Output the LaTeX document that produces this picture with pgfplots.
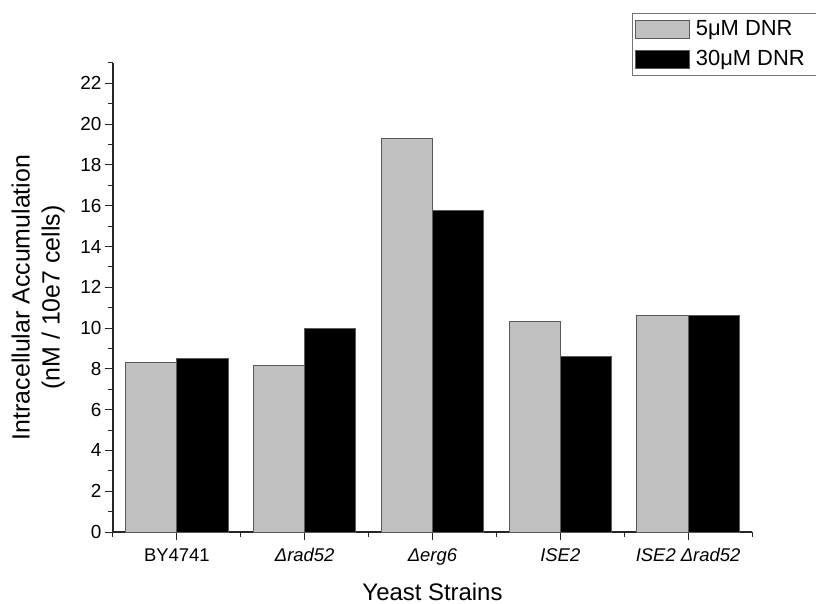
\documentclass[border=0pt]{standalone}
\usepackage{fontspec}
\setmainfont{Liberation Sans}
\usepackage{pgfplots}
\pgfplotsset{compat=1.18}
\definecolor{barGray}{HTML}{C0C0C0}
\definecolor{edgeGray}{HTML}{5A5A5A}
\begin{document}
\begin{tikzpicture}
\path[use as bounding box] (-113bp,-72bp) rectangle (703bp,532bp);
\begin{axis}[
  at={(0bp,0bp)}, anchor=south west,
  scale only axis, width=639bp, height=469bp,
  xmin=-0.5, xmax=4.5, ymin=0, ymax=23,
  axis x line*=bottom, axis y line*=left,
  xtick={0,1,2,3,4},
  xticklabels={BY4741, \textit{Δrad52}, \textit{Δerg6}, \textit{ISE2}, \textit{ISE2 Δrad52}},
  minor xtick={-0.5,0.5,1.5,2.5,3.5,4.5},
  ytick={0,2,...,22}, minor ytick={1,3,...,23},
  tick align=outside,
  major tick length=8bp, minor tick length=4.5bp,
  tick style={black!85, line width=1bp},
  axis line style={line width=1.3bp, black!85},
  /pgf/number format/assume math mode=true,
  yticklabel style={font=\fontsize{19}{21}\selectfont},
  xticklabel style={font=\fontsize{18.5}{21}\selectfont, yshift=-5bp},
  xlabel={Yeast Strains},
  ylabel={Intracellular Accumulation\\(nM / 10e7 cells)},
  every axis x label/.style={at={(axis description cs:0.5,-0.128)}, anchor=center, font=\fontsize{24}{27}\selectfont},
  every axis y label/.style={at={(axis description cs:-0.117,0.5)}, rotate=90, anchor=center, align=center, font=\fontsize{25}{30}\selectfont},
  ybar, bar width=0.4,
  legend style={at={(axis description cs:0.8122,1.1066)}, anchor=north west,
    draw=black!55, line width=0.8bp, font=\fontsize{22}{26}\selectfont,
    inner xsep=3bp, inner ysep=3bp,
    nodes={inner sep=2bp, text height=17bp, text depth=5bp},
    row sep=4bp},
  legend cell align=left,
  legend image code/.code={\draw[#1] (0bp,-9bp) rectangle (54bp,9bp); \path[draw=none,fill=none] (0bp,0bp) rectangle (58bp,0.1bp);},
]
\addplot[fill=barGray, draw=edgeGray, line width=1bp, bar shift=-0.2] coordinates {(0,8.3) (1,8.15) (2,19.3) (3,10.3) (4,10.6)};
\addplot[fill=black, draw=edgeGray, line width=1bp, bar shift=0.2] coordinates {(0,8.5) (1,10.0) (2,15.75) (3,8.6) (4,10.6)};
\legend{5μM DNR\rule{40bp}{0bp}, 30μM DNR\rule{40bp}{0bp}}
\end{axis}
\end{tikzpicture}
\end{document}
